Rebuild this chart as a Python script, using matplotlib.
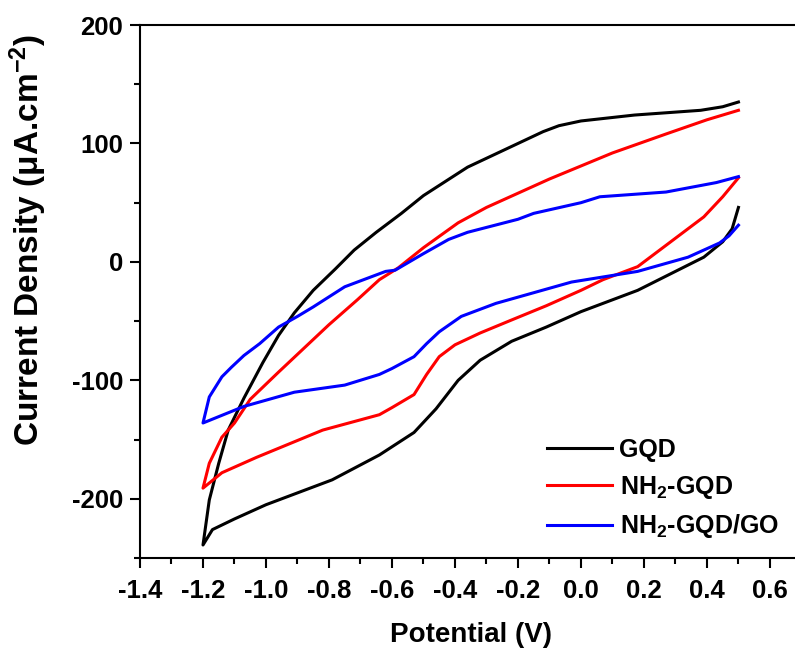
import matplotlib
matplotlib.use('Agg')
import matplotlib.pyplot as plt
from matplotlib.ticker import MultipleLocator

plt.rcParams['font.family'] = ['Liberation Sans', 'DejaVu Sans']
plt.rcParams['font.weight'] = 'bold'
plt.rcParams['axes.unicode_minus'] = False
plt.rcParams['mathtext.fontset'] = 'custom'
plt.rcParams['mathtext.rm'] = 'Liberation Sans:bold'
plt.rcParams['mathtext.bf'] = 'Liberation Sans:bold'
plt.rcParams['mathtext.default'] = 'rm'

# GQD: cathodic sweep (0.5 -> -1.2) then anodic sweep back
gqd_x = [0.5, 0.48, 0.45, 0.39, 0.30, 0.18, 0.0, -0.11, -0.22, -0.32, -0.39, -0.46,
         -0.53, -0.64, -0.79, -0.90, -1.0, -1.1, -1.17, -1.2,
         -1.18, -1.15, -1.12, -1.07, -1.01, -0.96, -0.91, -0.85, -0.78, -0.72, -0.65,
         -0.57, -0.50, -0.43, -0.36, -0.28, -0.2, -0.12, -0.07, 0.0, 0.17, 0.38, 0.45, 0.5]
gqd_y = [46, 28, 17, 4, -8, -24, -42, -55, -67, -83, -100, -124,
         -144, -163, -184, -195, -205, -217, -226, -239,
         -201, -170, -142, -115, -85, -62, -43, -24, -6, 10, 25,
         41, 56, 68, 80, 90, 100, 110, 115, 119, 124, 128, 131, 135]

# NH2-GQD
nh2_x = [0.5, 0.45, 0.39, 0.28, 0.18, 0.07, 0.0, -0.11, -0.22, -0.32, -0.40, -0.45,
         -0.49, -0.53, -0.6, -0.64, -0.82, -1.03, -1.14, -1.2,
         -1.18, -1.14, -1.1, -1.05, -0.96, -0.92, -0.80, -0.71, -0.64, -0.58, -0.5,
         -0.39, -0.3, -0.2, -0.1, 0.0, 0.1, 0.27, 0.4, 0.5]
nh2_y = [71, 55, 38, 16, -4, -15, -24, -37, -49, -60, -70, -80,
         -95, -112, -123, -129, -142, -165, -178, -191,
         -170, -148, -136, -116, -93, -83, -53, -32, -15, -5, 12,
         33, 46, 58, 70, 81, 92, 108, 120, 128]

# NH2-GQD/GO
nh2go_x = [0.5, 0.47, 0.44, 0.34, 0.18, -0.03, -0.15, -0.27, -0.38, -0.45, -0.49, -0.53,
           -0.6, -0.64, -0.75, -0.91, -1.07, -1.2,
           -1.18, -1.14, -1.11, -1.07, -1.02, -0.96, -0.9, -0.85, -0.75, -0.66, -0.62,
           -0.59, -0.5, -0.42, -0.36, -0.2, -0.15, 0.0, 0.06, 0.27, 0.43, 0.5]
nh2go_y = [31, 22, 16, 4, -8, -17, -26, -35, -46, -59, -69, -80,
           -90, -95, -104, -110, -122, -136,
           -114, -97, -89, -79, -69, -55, -46, -38, -21, -12, -8,
           -7, 7, 19, 25, 36, 41, 50, 55, 59, 67, 72]

fig = plt.figure(figsize=(7.95, 6.5), dpi=100)
ax = fig.add_axes([0.1761, 0.1415, 0.832, 0.82])

ax.plot(gqd_x, gqd_y, color='black', lw=2.2, label='GQD')
ax.plot(nh2_x, nh2_y, color='red', lw=2.2, label='NH$_2$-GQD')
ax.plot(nh2go_x, nh2go_y, color='blue', lw=2.2, label='NH$_2$-GQD/GO')

ax.set_xlim(-1.4, 0.7)
ax.set_ylim(-250, 200)
ax.xaxis.set_minor_locator(MultipleLocator(0.1))
ax.yaxis.set_minor_locator(MultipleLocator(50))
ax.set_xticks([-1.4, -1.2, -1.0, -0.8, -0.6, -0.4, -0.2, 0.0, 0.2, 0.4, 0.6])
ax.set_xticklabels(['-1.4', '-1.2', '-1.0', '-0.8', '-0.6', '-0.4', '-0.2', '0.0', '0.2', '0.4', '0.6'])
ax.set_yticks([-200, -100, 0, 100, 200])
ax.set_yticklabels(['-200', '-100', '0', '100', '200'])

ax.tick_params(which='major', direction='out', length=7, width=1.5, labelsize=18.5)
ax.tick_params(axis='x', which='major', pad=8)
ax.tick_params(axis='y', which='major', pad=5)
ax.tick_params(which='minor', direction='out', length=4, width=1.5)
for s in ax.spines.values():
    s.set_linewidth(1.5)

ax.set_xlabel('Potential (V)', fontsize=20, fontweight='bold')
ax.xaxis.set_label_coords(0.5, -0.12)
ax.set_ylabel('Current Density (μA.cm$^{-2}$)', fontsize=24, fontweight='bold')
ax.yaxis.set_label_coords(-0.137, 0.597)

ax.legend(loc='upper left', bbox_to_anchor=(547 / 795, 1 - 438 / 650),
          bbox_transform=fig.transFigure, frameon=False, fontsize=18,
          borderpad=0, borderaxespad=0, handlelength=2.6, handletextpad=0.3,
          labelspacing=0.47)

fig.savefig('out.png', dpi=100)
